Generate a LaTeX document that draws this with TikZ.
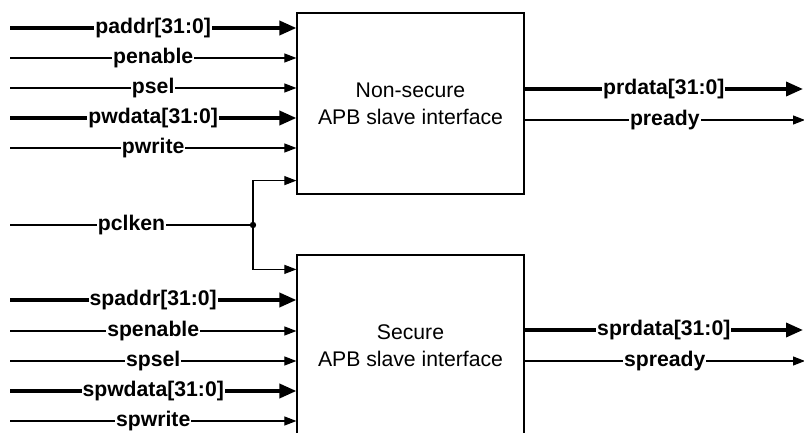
\documentclass[tikz,border=0pt]{standalone}
\usepackage{fontspec}
\setmainfont{Liberation Sans}
\usetikzlibrary{arrows.meta}
\begin{document}
\begin{tikzpicture}[x=0.5pt,y=-0.5pt,
  sig/.style={line width=0.55pt,-{Triangle[length=6pt,width=4.5pt]}},
  bus/.style={line width=1.8pt,-{Triangle[length=8.5pt,width=7pt]}},
  wire/.style={line width=0.55pt},
  lbl/.style={fill=white,inner sep=0.5pt,font=\fontsize{10.6}{12}\selectfont\bfseries},
  blk/.style={draw,line width=0.6pt,minimum width=113.5pt,minimum height=90.5pt,
    align=center,font=\fontsize{10.6}{13.5}\selectfont,inner sep=0pt}]
\useasboundingbox (0,0) rectangle (804,433);
\clip (0,0) rectangle (804,433);
\node[blk] (b1) at (410.5,103.5) {Non-secure\\APB slave interface};
\node[blk,minimum height=91pt] (b2) at (410.5,346) {Secure\\APB slave interface};
% non-secure inputs
\foreach \n/\y/\t/\s in {a/28/paddr[31:0]/bus, b/58/penable/sig, c/88/psel/sig, d/118/pwdata[31:0]/bus, e/148/pwrite/sig}{
  \coordinate (in\n) at (10,\y);
  \draw[\s] (in\n) -- node[lbl] {\t} (b1.west |- in\n);
}
% secure inputs
\foreach \n/\y/\t/\s in {a/300/spaddr[31:0]/bus, b/331/spenable/sig, c/361/spsel/sig, d/391/spwdata[31:0]/bus, e/421/spwrite/sig}{
  \coordinate (sin\n) at (10,\y);
  \draw[\s] (sin\n) -- node[lbl] {\t} (b2.west |- sin\n);
}
% pclken
\coordinate (pclk) at (10,225);
\coordinate (j) at (253,225);
\draw[wire] (pclk) -- node[lbl] {pclken} (j);
\draw[sig] (j) |- ([yshift=7pt]b1.south west);
\draw[sig] (j) |- ([yshift=-7.5pt]b2.north west);
\fill (j) circle[radius=1.6pt];
% outputs
\coordinate (o1) at (803,89);
\coordinate (o2) at (805,120);
\coordinate (o3) at (803,330);
\coordinate (o4) at (805,361);
\draw[bus] (b1.east |- o1) -- node[lbl] {prdata[31:0]} (o1);
\draw[sig] (b1.east |- o2) -- node[lbl] {pready} (o2);
\draw[bus] (b2.east |- o3) -- node[lbl] {sprdata[31:0]} (o3);
\draw[sig] (b2.east |- o4) -- node[lbl] {spready} (o4);
\end{tikzpicture}
\end{document}
